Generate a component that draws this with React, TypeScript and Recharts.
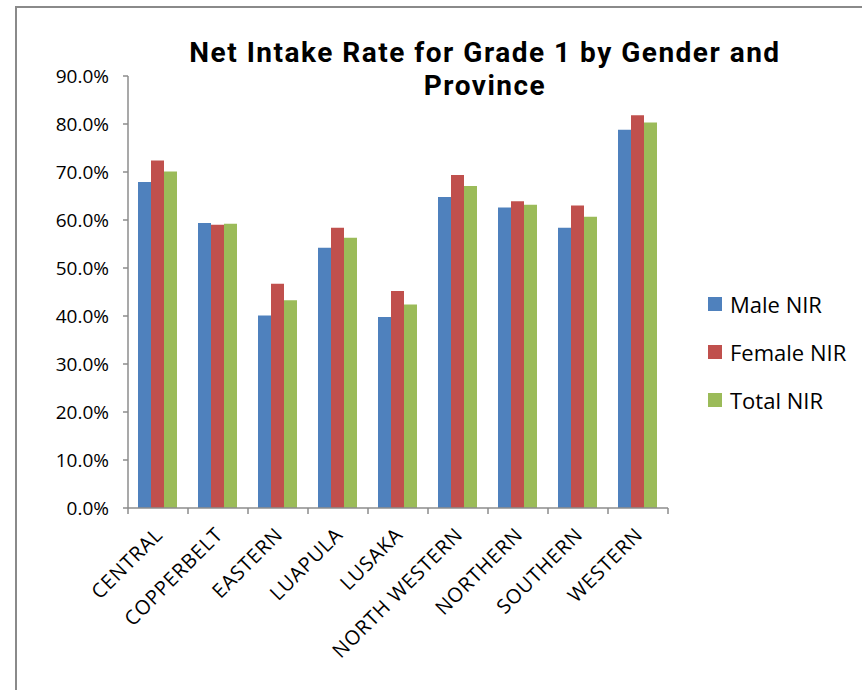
import { Bar, BarChart, XAxis, YAxis } from 'recharts'

const provinces = [
  'CENTRAL',
  'COPPERBELT',
  'EASTERN',
  'LUAPULA',
  'LUSAKA',
  'NORTH WESTERN',
  'NORTHERN',
  'SOUTHERN',
  'WESTERN',
]
const maleNir = [67.9, 59.4, 40.1, 54.2, 39.8, 64.8, 62.6, 58.4, 78.8]
const femaleNir = [72.4, 59.0, 46.7, 58.4, 45.2, 69.4, 63.9, 63.0, 81.8]
const totalNir = [70.1, 59.2, 43.3, 56.3, 42.4, 67.1, 63.2, 60.7, 80.3]
const yTicks = [0, 10, 20, 30, 40, 50, 60, 70, 80, 90]

const series = [
  { key: 'male', name: 'Male NIR', color: '#4F81BD' },
  { key: 'female', name: 'Female NIR', color: '#C0504D' },
  { key: 'total', name: 'Total NIR', color: '#9BBB59' },
]

const data = provinces.map((p, i) => ({
  province: p,
  male: maleNir[i],
  female: femaleNir[i],
  total: totalNir[i],
}))

const font = '"Open Sans", Lato, sans-serif'
const axisColor = '#8c8c8c'

function ProvinceTick(props: any) {
  const { x, y, payload, index } = props
  const half = payload.offset || 30
  const ax = x + 6
  const ay = y + 20
  return (
    <g>
      <line x1={x - half} y1={y - 8} x2={x - half} y2={y - 2} stroke={axisColor} strokeWidth={1.5} />
      {index === provinces.length - 1 && (
        <line x1={x + half} y1={y - 8} x2={x + half} y2={y - 2} stroke={axisColor} strokeWidth={1.5} />
      )}
      <text
        x={ax}
        y={ay}
        textAnchor="end"
        transform={`rotate(-45, ${ax}, ${ay})`}
        fontSize={20}
        letterSpacing={0.8}
        fontFamily={font}
        fill="#000"
      >
        {payload.value}
      </text>
    </g>
  )
}

const titleLine = {
  height: 33,
  lineHeight: '33px',
  textAlign: 'center' as const,
  whiteSpace: 'nowrap' as const,
}

export default function App() {
  return (
    <div style={{ position: 'absolute', left: 0, top: 0, width: 862, height: 690, background: '#fff', overflow: 'hidden' }}>
      <div
        style={{
          position: 'absolute',
          left: 15,
          top: 6,
          width: 900,
          height: 800,
          borderLeft: '2px solid #8a8a8a',
          borderTop: '2px solid #8a8a8a',
        }}
      />
      <div
        style={{
          position: 'absolute',
          left: 135,
          top: 36,
          width: 700,
          fontFamily: 'Roboto, "Open Sans", sans-serif',
          fontWeight: 700,
          fontSize: 28,
          letterSpacing: 1.5,
          color: '#000',
        }}
      >
        <div style={titleLine}>Net Intake Rate for Grade 1 by Gender and</div>
        <div style={titleLine}>Province</div>
      </div>
      <div style={{ position: 'absolute', left: 0, top: 0 }}>
        <BarChart
          width={862}
          height={690}
          data={data}
          margin={{ top: 76, right: 194, bottom: 0, left: 0 }}
          barCategoryGap={10}
          barGap={0}
        >
          <XAxis
            dataKey="province"
            height={182}
            interval={0}
            tickLine={false}
            stroke={axisColor}
            strokeWidth={1.5}
            tick={<ProvinceTick />}
          />
          <YAxis
            width={128}
            domain={[0, 90]}
            ticks={yTicks}
            interval={0}
            stroke={axisColor}
            strokeWidth={1.5}
            tickSize={5}
            tickFormatter={(v: number) => `${v.toFixed(1)}%`}
            tick={{ fill: '#000', fontSize: 19, fontFamily: font, dx: -12 }}
          />
          {series.map((s) => (
            <Bar key={s.key} dataKey={s.key} name={s.name} fill={s.color} isAnimationActive={false} />
          ))}
        </BarChart>
      </div>
      <div style={{ position: 'absolute', left: 708, top: 280 }}>
        {series.map((s) => (
          <div key={s.key} style={{ display: 'flex', alignItems: 'center', height: 48, fontFamily: font, fontSize: 22, color: '#000' }}>
            <span style={{ width: 14, height: 14, background: s.color, marginRight: 8, display: 'inline-block' }} />
            {s.name}
          </div>
        ))}
      </div>
    </div>
  )
}
